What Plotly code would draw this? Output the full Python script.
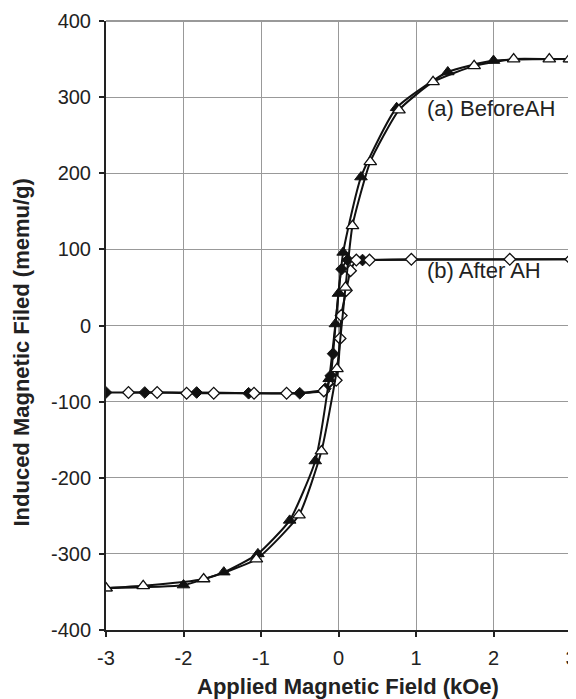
import plotly.graph_objects as go

# (a) Before AH - filled triangles branch
a_fill_x = [-3.0, -2.0, -1.48, -1.04, -0.63, -0.30, -0.12, -0.04, 0.0, 0.06, 0.29, 0.75, 1.41, 2.0, 3.0]
a_fill_y = [-345, -341, -324, -300, -256, -178, -70, 2, 42, 96, 195, 286, 333, 348, 350]
# (a) Before AH - open triangles branch
a_open_x = [-3.0, -2.52, -1.74, -1.06, -0.51, -0.22, -0.02, 0.09, 0.18, 0.41, 0.78, 1.22, 1.75, 2.26, 2.72, 2.98]
a_open_y = [-345, -342, -333, -307, -249, -165, -57, 50, 131, 215, 283, 320, 341, 350, 350, 350]

# (b) After AH - filled diamonds branch
b_fill_x = [-3.0, -2.50, -1.83, -1.16, -0.50, -0.17, -0.10, -0.07, 0.04, 0.12, 0.31, 3.0]
b_fill_y = [-88, -88, -88, -89, -89, -83, -66, -37, 74, 86, 86, 87]
# (b) After AH - open diamonds branch
b_open_x = [-2.71, -2.34, -1.96, -1.61, -1.09, -0.67, -0.19, -0.03, 0.02, 0.035, 0.10, 0.155, 0.23, 0.40, 0.94, 2.21, 3.0]
b_open_y = [-88, -88, -89, -89, -89, -89, -86, -72, -17, 13, 46, 72, 86, 86, 87, 87, 87]

x_ticks = [-3, -2, -1, 0, 1, 2, 3]
y_ticks = [-400, -300, -200, -100, 0, 100, 200, 300, 400]

line = dict(color="#111", width=2, shape="spline", smoothing=0.5)

fig = go.Figure()
fig.add_trace(go.Scatter(x=b_fill_x, y=b_fill_y, mode="lines+markers", line=line,
                         marker=dict(symbol="diamond", size=9, color="#111",
                                     line=dict(color="#111", width=1))))
fig.add_trace(go.Scatter(x=b_open_x, y=b_open_y, mode="lines+markers", line=line,
                         marker=dict(symbol="diamond", size=9, color="white",
                                     line=dict(color="#111", width=1.3))))
fig.add_trace(go.Scatter(x=a_fill_x, y=a_fill_y, mode="lines+markers", line=line,
                         marker=dict(symbol="triangle-up", size=11, color="#111",
                                     line=dict(color="#111", width=1))))
fig.add_trace(go.Scatter(x=a_open_x, y=a_open_y, mode="lines+markers", line=line,
                         marker=dict(symbol="triangle-up", size=11, color="white",
                                     line=dict(color="#111", width=1.3))))

fig.add_annotation(x=1.12, y=285, xref="x", yref="y", text="(a) BeforeAH", showarrow=False,
                   xanchor="left", yanchor="middle",
                   font=dict(family="Liberation Sans, Arial", size=22, color="#222"))
fig.add_annotation(x=1.12, y=72, xref="x", yref="y", text="(b) After AH", showarrow=False,
                   xanchor="left", yanchor="middle",
                   font=dict(family="Liberation Sans, Arial", size=22, color="#222"))

# axis titles
fig.add_annotation(x=0.52, y=-0.0925, xref="paper", yref="paper",
                   text="<b>Applied Magnetic Field (kOe)</b>", showarrow=False,
                   xanchor="center", yanchor="middle",
                   font=dict(family="Liberation Sans, Arial", size=22, color="#222"))
fig.add_annotation(x=-0.1817, y=0.4548, xref="paper", yref="paper",
                   text="<b>Induced Magnetic Filed (memu/g)</b>", showarrow=False,
                   textangle=-90, xanchor="center", yanchor="middle",
                   font=dict(family="Liberation Sans, Arial", size=22, color="#222"))

# grey top/right frame
fig.add_shape(type="line", xref="paper", yref="paper", x0=0, x1=1, y0=1, y1=1,
              line=dict(color="#999", width=2))
fig.add_shape(type="line", xref="paper", yref="paper", x0=1, x1=1, y0=0, y1=1,
              line=dict(color="#999", width=2.5))

# page body has an 8px margin, so the figure is sized to fill the rest of the window
fig.update_layout(
    width=568, height=691,
    margin=dict(l=98, r=5, t=13, b=69),
    paper_bgcolor="white", plot_bgcolor="white",
    showlegend=False,
    font=dict(family="Liberation Sans, Arial", color="#222"),
    xaxis=dict(range=[-3, 3], tickvals=x_ticks, ticktext=[str(v) for v in x_ticks],
               showgrid=True, gridcolor="#999", gridwidth=1, zeroline=False,
               showline=True, linecolor="#222", linewidth=2,
               ticks="outside", ticklen=5, tickcolor="#222", tickwidth=1.5,
               tickfont=dict(size=20), automargin=False, ticklabelstandoff=4,
               ticklabeloverflow="allow"),
    yaxis=dict(range=[-400, 400], tickvals=y_ticks, ticktext=[str(v) for v in y_ticks],
               showgrid=True, gridcolor="#999", gridwidth=1, zeroline=False,
               showline=True, linecolor="#222", linewidth=2,
               ticks="outside", ticklen=5, tickcolor="#222", tickwidth=1.5,
               tickfont=dict(size=20), automargin=False, ticklabelstandoff=4,
               ticklabeloverflow="allow"),
)

fig.write_html("out.html")
